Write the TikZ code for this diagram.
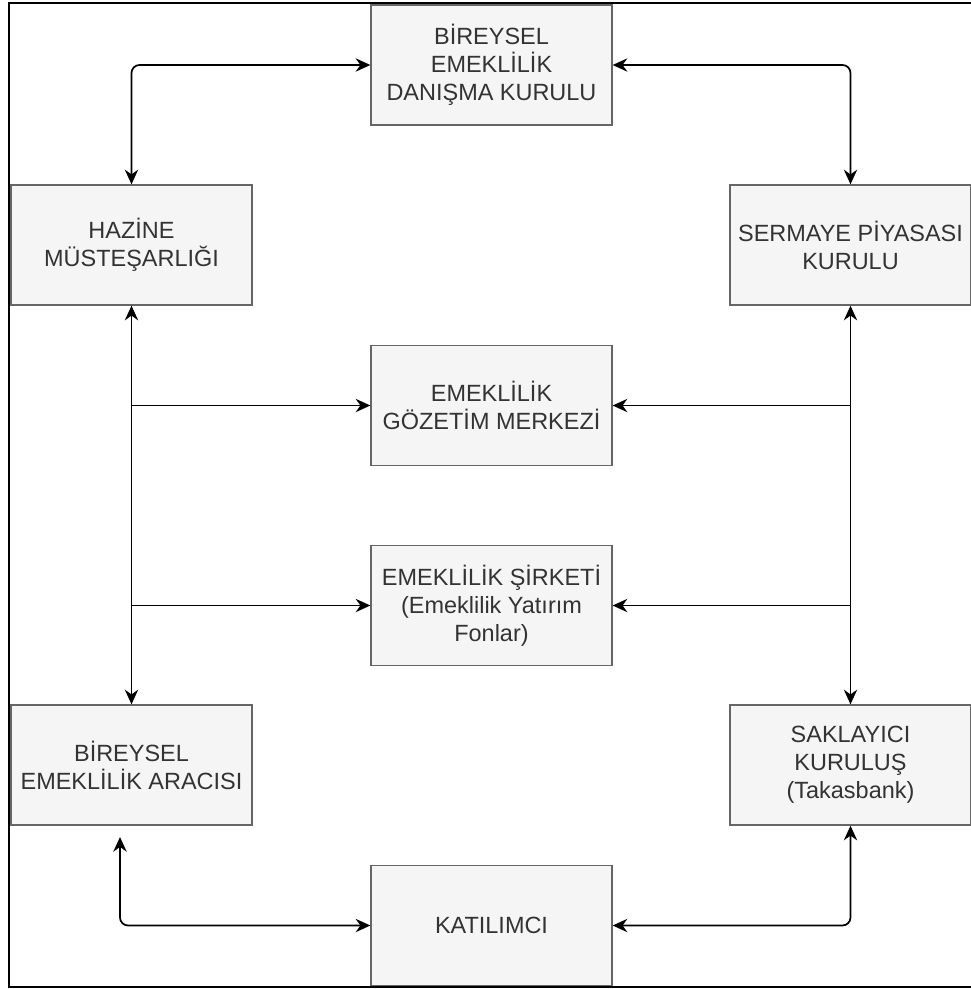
\documentclass[tikz,border=0pt]{standalone}
\usepackage{fontspec}
\setmainfont{Liberation Sans}
\usetikzlibrary{arrows.meta}
\definecolor{boxfill}{HTML}{F5F5F5}
\definecolor{boxline}{HTML}{666666}
\definecolor{boxtext}{HTML}{333333}
\begin{document}
\begin{tikzpicture}[x=0.75pt, y=-0.75pt, >={Stealth[length=11pt, width=10pt]}, line width=1.3pt]
                \tikzstyle{unit}=[rectangle, draw=boxline, fill=boxfill, line width=1pt, minimum width=180.75pt, minimum height=90pt, inner sep=2pt, align=center, text=boxtext, font=\fontsize{17.6}{21}\selectfont]
                
                \useasboundingbox (0,0) rectangle (971,989);
                \draw[line width=1.5pt] (9,3) rectangle (980,987);
                
                \node[unit] (bek) at (491.5, 65) {BİREYSEL\\EMEKLİLİK\\DANIŞMA KURULU};
                \node[unit] (hazine) at (131.5, 245) {HAZİNE\\MÜSTEŞARLIĞI};
                \node[unit] (spk) at (850.5, 245) {SERMAYE PİYASASI\\KURULU};
                \node[unit] (egm) at (491.5, 405.5) {EMEKLİLİK\\GÖZETİM MERKEZİ};
                \node[unit] (sirket) at (491.5, 605.5) {EMEKLİLİK ŞİRKETİ\\(Emeklilik Yatırım\\Fonlar)};
                \node[unit] (araci) at (131.5, 765) {BİREYSEL\\EMEKLİLİK ARACISI};
                \node[unit] (takas) at (850.5, 765) {SAKLAYICI\\KURULUŞ\\(Takasbank)};
                \node[unit] (kat) at (491.5, 925.5) {KATILIMCI};
                
                \coordinate (jl1) at (hazine.south |- egm.west);
                \coordinate (jl2) at (hazine.south |- sirket.west);
                \coordinate (jr1) at (spk.south |- egm.east);
                \coordinate (jr2) at (spk.south |- sirket.east);
                \coordinate (ab) at (120, 837);
                
                \draw[<->, rounded corners=6pt] (hazine.north) |- (bek.west);
                \draw[<->, rounded corners=6pt] (spk.north) |- (bek.east);
                \draw[<->] (hazine.south) -- (araci.north);
                \draw[<->] (spk.south) -- (takas.north);
                \draw[->] (jl1) -- (egm.west);
                \draw[->] (jl2) -- (sirket.west);
                \draw[->] (jr1) -- (egm.east);
                \draw[->] (jr2) -- (sirket.east);
                \draw[<->, rounded corners=6pt] (ab) |- (kat.west);
                \draw[<->, rounded corners=6pt] (takas.south) |- (kat.east);
            \end{tikzpicture}
\end{document}
